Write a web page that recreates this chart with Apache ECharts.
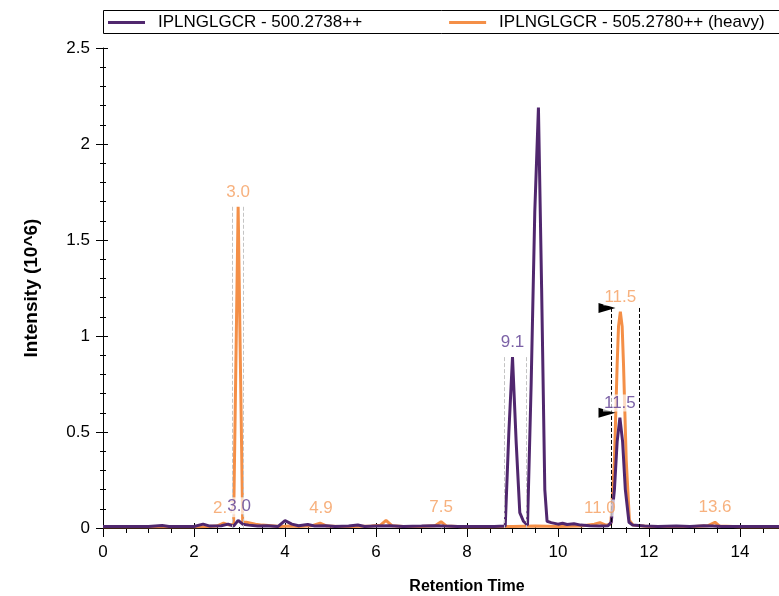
<!DOCTYPE html>
<html><head><meta charset="utf-8">
<script src="https://cdn.jsdelivr.net/npm/echarts@6/dist/echarts.min.js"></script>
<style>html,body{margin:0;padding:0;background:#fff;overflow:hidden}#c{width:779px;height:596px}</style>
</head><body><div id="c"></div>
<script>
const seriesNames = ['IPLNGLGCR - 500.2738++', 'IPLNGLGCR - 505.2780++ (heavy)'];
const xAxisName = 'Retention Time';
const yAxisName = 'Intensity (10^6)';

// light (purple) chromatogram: [retention time, intensity 10^6]
const lightData = [
  [0,0.008],[0.5,0.008],[1.0,0.008],[1.3,0.013],[1.45,0.008],[2.0,0.008],[2.2,0.02],[2.35,0.01],
  [2.6,0.012],[2.75,0.02],[2.87,0.01],[2.97,0.04],[3.07,0.02],[3.2,0.015],[3.4,0.01],[3.6,0.012],
  [3.85,0.008],[4.0,0.038],[4.15,0.02],[4.3,0.012],[4.5,0.018],[4.65,0.01],[4.9,0.012],[5.1,0.008],
  [5.4,0.01],[5.6,0.016],[5.75,0.008],[6.0,0.01],[6.3,0.012],[6.6,0.008],[7.0,0.01],[7.3,0.012],
  [7.5,0.01],[7.8,0.008],[8.2,0.008],[8.6,0.008],[8.84,0.01],[8.92,0.5],[9.0,0.89],[9.08,0.45],
  [9.16,0.08],[9.24,0.035],[9.33,0.015],[9.41,0.75],[9.49,1.65],[9.57,2.19],[9.64,1.25],[9.71,0.2],
  [9.76,0.035],[9.85,0.028],[10.0,0.02],[10.1,0.025],[10.2,0.018],[10.35,0.022],[10.5,0.015],
  [10.7,0.012],[10.9,0.01],[11.1,0.012],[11.17,0.03],[11.24,0.2],[11.3,0.45],[11.36,0.575],
  [11.42,0.45],[11.48,0.2],[11.56,0.03],[11.64,0.015],[11.9,0.01],[12.2,0.008],[12.6,0.01],
  [12.9,0.008],[13.2,0.012],[13.4,0.01],[13.6,0.008],[14.0,0.008],[14.5,0.008],[15,0.008],[16,0.008]
];
// heavy (orange) chromatogram
const heavyData = [
  [0,0.006],[0.5,0.006],[1.0,0.006],[1.5,0.006],[2.0,0.006],[2.3,0.008],[2.5,0.01],[2.65,0.025],
  [2.78,0.015],[2.87,0.02],[2.97,1.673],[3.07,0.03],[3.15,0.03],[3.25,0.025],[3.35,0.02],[3.5,0.015],
  [3.7,0.012],[3.9,0.008],[4.1,0.01],[4.3,0.008],[4.6,0.012],[4.77,0.025],[4.92,0.01],[5.2,0.008],
  [5.5,0.008],[5.9,0.01],[6.1,0.015],[6.22,0.04],[6.35,0.012],[6.6,0.008],[7.0,0.008],[7.3,0.012],
  [7.43,0.033],[7.55,0.01],[7.9,0.006],[8.5,0.006],[9.0,0.008],[9.5,0.01],[10.0,0.008],[10.5,0.01],
  [10.8,0.02],[10.92,0.028],[11.05,0.015],[11.16,0.02],[11.24,0.35],[11.3,0.85],[11.33,1.05],
  [11.37,1.127],[11.41,1.05],[11.44,0.85],[11.5,0.35],[11.57,0.04],[11.65,0.015],[12.0,0.008],
  [12.5,0.008],[13.0,0.008],[13.3,0.012],[13.45,0.03],[13.55,0.01],[14.0,0.006],[15,0.006],[16,0.006]
];
// peak labels: [time, intensity, text]
const lightLabels = [[2.99,0.04,'3.0'],[9.0,0.89,'9.1'],[11.36,0.575,'11.5']];
const heavyLabels = [[2.68,0.025,'2.7'],[4.79,0.025,'4.9'],[7.43,0.033,'7.5'],[10.92,0.028,'11.0'],[11.37,1.127,'11.5'],[13.45,0.03,'13.6']];
const heavyTopLabels = [[2.97,1.673,'3.0']];
// integration boundaries: [start, end, top]
const lightBounds = [[8.82, 9.30, 0.89]];
const heavyBounds = [[2.85, 3.08, 1.673]];
const lightPicked = [[11.165, 11.787, 0.60]];
const heavyPicked = [[11.165, 11.787, 1.146]];

const PURPLE = '#50276e', ORANGE = '#f48f47';
const PURPLE_TXT = '#5a3a90', ORANGE_TXT = '#f59d5e';
const FONT = "'Liberation Sans', Arial, sans-serif";

function boundLines(b, bottom) {
  const out = [];
  b.forEach(([s, e, top]) => {
    out.push([{coord: [s, top]}, {coord: [s, bottom]}]);
    out.push([{coord: [e, top]}, {coord: [e, bottom]}]);
  });
  return out;
}
function labelSeries(data, color, z) {
  return {
    type: 'scatter', data: data, symbolSize: 0, silent: true, z: z,
    label: {show: true, position: 'top', distance: 6, formatter: p => p.value[2],
      color: color, fontSize: 17, fontFamily: FONT,
      backgroundColor: 'rgba(255,255,255,0.85)', padding: [0, 1, 0, 1]}
  };
}

const chart = echarts.init(document.getElementById('c'), null, {renderer: 'canvas'});
chart.setOption({
  animation: false,
  backgroundColor: '#fff',
  graphic: [{type: 'rect', left: 103, top: 10, z: 0,
    shape: {x: 0, y: 0, width: 700, height: 23},
    style: {fill: '#fff', stroke: '#000', lineWidth: 1}}],
  legend: {
    data: seriesNames, left: 108, top: 14, padding: 0, itemWidth: 37, itemHeight: 3, itemGap: 87,
    icon: 'rect', textStyle: {fontSize: 17, fontFamily: FONT, color: '#000', padding: [0, 0, 0, 8]}
  },
  grid: {left: 103, top: 48, width: 728, height: 480, outerBoundsMode: 'none', containLabel: false},
  xAxis: [{
    type: 'value', min: 0, max: 16, interval: 2,
    name: xAxisName, nameLocation: 'middle', nameGap: 51,
    nameTextStyle: {fontSize: 16, fontWeight: 'bold', fontFamily: FONT, color: '#000'},
    axisLine: {lineStyle: {color: '#000', width: 1}},
    axisTick: {show: true, length: 9, lineStyle: {color: '#000'}},
    minorTick: {show: true, splitNumber: 4, length: 5, lineStyle: {color: '#000'}},
    axisLabel: {fontSize: 17, fontFamily: FONT, color: '#000', margin: 16, showMaxLabel: false},
    splitLine: {show: false}
  }, {
    type: 'value', min: 0, max: 16, interval: 2, position: 'bottom',
    axisLine: {show: false},
    axisTick: {show: true, inside: true, length: 5, lineStyle: {color: '#000'}},
    minorTick: {show: true, splitNumber: 4, length: 1, lineStyle: {color: '#000'}},
    axisLabel: {show: false}, splitLine: {show: false}
  }],
  yAxis: [{
    type: 'value', min: 0, max: 2.5, interval: 0.5,
    name: yAxisName, nameLocation: 'middle', nameGap: 62,
    nameTextStyle: {fontSize: 19, fontWeight: 'bold', fontFamily: FONT, color: '#000'},
    axisLine: {show: true, lineStyle: {color: '#000', width: 1}},
    axisTick: {show: true, length: 7, lineStyle: {color: '#000'}},
    minorTick: {show: true, splitNumber: 5, length: 3, lineStyle: {color: '#000'}},
    axisLabel: {fontSize: 17, fontFamily: FONT, color: '#000', margin: 13},
    splitLine: {show: false}
  }, {
    type: 'value', min: 0, max: 2.5, interval: 0.5, position: 'left',
    axisLine: {show: false},
    axisTick: {show: true, inside: true, length: 5, lineStyle: {color: '#000'}},
    minorTick: {show: true, splitNumber: 5, length: 3, lineStyle: {color: '#000'}},
    axisLabel: {show: false}, splitLine: {show: false}
  }],
  series: [
    {
      name: seriesNames[1], type: 'line', data: heavyData, showSymbol: false, z: 2,
      lineStyle: {color: ORANGE, width: 3}, itemStyle: {color: ORANGE},
      markLine: {silent: true, symbol: ['none', 'none'], label: {show: false}, animation: false,
        data: boundLines(heavyBounds, 0),
        lineStyle: {type: 'dashed', color: '#c4c4c4', width: 1}}
    },
    {
      name: seriesNames[0], type: 'line', data: lightData, showSymbol: false, z: 3,
      lineStyle: {color: PURPLE, width: 3}, itemStyle: {color: PURPLE},
      markLine: {silent: true, symbol: ['none', 'none'], label: {show: false}, animation: false,
        data: boundLines(lightBounds, 0),
        lineStyle: {type: 'dashed', color: '#c4c4c4', width: 1}}
    },
    {
      type: 'line', data: [], silent: true, z: 4,
      markLine: {silent: true, symbol: ['none', 'none'], label: {show: false}, animation: false,
        data: boundLines(heavyPicked, 0), lineStyle: {type: 'dashed', color: '#000', width: 1}}
    },
    {
      type: 'line', data: [], silent: true, z: 4, clip: false,
      markLine: {silent: true, symbol: ['none', 'none'], label: {show: false}, animation: false,
        data: boundLines(lightPicked, -0.065), lineStyle: {type: 'solid', color: '#000', width: 1}}
    },
    {
      type: 'scatter', silent: true, z: 6, symbol: 'triangle', symbolRotate: -90,
      symbolSize: [10, 17], symbolOffset: [-4, 0], itemStyle: {color: '#000', opacity: 1},
      data: heavyPicked.concat(lightPicked).map(b => [b[0], b[2]])
    },
    labelSeries(heavyTopLabels, ORANGE_TXT, 7),
    labelSeries(heavyLabels, ORANGE_TXT, 7),
    labelSeries(lightLabels, PURPLE_TXT, 8)
  ]
});
</script></body></html>
